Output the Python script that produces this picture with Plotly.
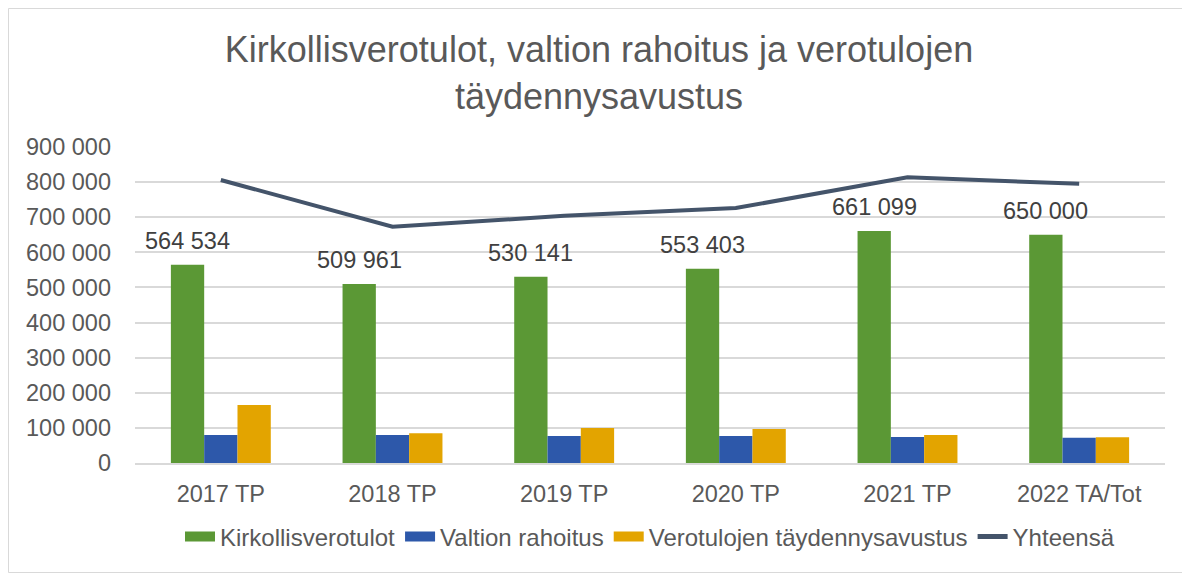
import plotly.graph_objects as go

categories = ["2017 TP", "2018 TP", "2019 TP", "2020 TP", "2021 TP", "2022 TA/Tot"]
kirkollisverotulot = [564534, 509961, 530141, 553403, 661099, 650000]
valtion_rahoitus = [80000, 80000, 77000, 77000, 74000, 72000]
taydennysavustus = [165000, 85000, 100000, 97000, 80000, 73000]
yhteensa = [806000, 673000, 704000, 726000, 814000, 795000]
kirkko_labels = ["564 534", "509 961", "530 141", "553 403", "661 099", "650 000"]
tick_vals = [0, 100000, 200000, 300000, 400000, 500000, 600000, 700000, 800000, 900000]
tick_text = ["0", "100 000", "200 000", "300 000", "400 000", "500 000",
             "600 000", "700 000", "800 000", "900 000"]

FONT = "Liberation Sans, Arial, sans-serif"
GREY = "#595959"
C_GREEN, C_BLUE, C_YELLOW, C_LINE = "#5b9835", "#2d58aa", "#e3a400", "#44546a"
BARGAP = 0.418

fig = go.Figure()
fig.add_trace(go.Bar(x=categories, y=kirkollisverotulot, name="Kirkollisverotulot",
                     legendgroup="k", showlegend=False,
                     marker=dict(color=C_GREEN, line=dict(width=0))))
fig.add_trace(go.Bar(x=categories, y=valtion_rahoitus, name="Valtion rahoitus",
                     legendgroup="v", showlegend=False,
                     marker=dict(color=C_BLUE, line=dict(width=0))))
fig.add_trace(go.Bar(x=categories, y=taydennysavustus, name="Verotulojen täydennysavustus",
                     legendgroup="t", showlegend=False,
                     marker=dict(color=C_YELLOW, line=dict(width=0))))
fig.add_trace(go.Scatter(x=categories, y=yhteensa, name="Yhteensä", mode="lines",
                         showlegend=False,
                         line=dict(color=C_LINE, width=4)))

# legend entries (wide rectangular keys like the original)
for name, col, grp, w in [("Kirkollisverotulot", C_GREEN, "k", 12),
                          ("Valtion rahoitus", C_BLUE, "v", 12),
                          ("Verotulojen täydennysavustus", C_YELLOW, "t", 12),
                          ("Yhteensä", C_LINE, "y", 5)]:
    fig.add_trace(go.Scatter(x=[None], y=[None], mode="lines", name=name,
                             legendgroup=grp, line=dict(color=col, width=w)))

# data labels above the green bars
green_offset = -(1 - BARGAP) / 3
for i, (v, lab) in enumerate(zip(kirkollisverotulot, kirkko_labels)):
    fig.add_annotation(x=i + green_offset, y=v, xref="x", yref="y", text=lab,
                       showarrow=False, yanchor="bottom", xanchor="center", yshift=9,
                       font=dict(size=23.5, color="#404040", family=FONT))

W, H = 1182, 565
ml, mr, mt, mb = 127, 25, 139, 110
pw, ph = W - ml - mr, H - mt - mb

fig.update_layout(
    width=W, height=H,
    margin=dict(l=ml, r=mr, t=mt, b=mb),
    paper_bgcolor="white", plot_bgcolor="white",
    font=dict(family=FONT, color=GREY, size=23.5),
    title=dict(text="Kirkollisverotulot, valtion rahoitus ja verotulojen<br>täydennysavustus",
               x=0.5, xanchor="center", y=1 - 54 / H, yanchor="middle",
               font=dict(size=36, color=GREY, family=FONT)),
    barmode="group", bargap=BARGAP, bargroupgap=0,
    showlegend=True,
    legend=dict(orientation="h", x=0.5, xanchor="center",
                y=-74 / ph, yanchor="middle",
                font=dict(size=24, color=GREY, family=FONT),
                traceorder="normal", itemwidth=30, tracegroupgap=0),
    xaxis=dict(showgrid=False, showline=True, linecolor="#d9d9d9", linewidth=1.5,
               ticks="", ticklabelstandoff=9, tickfont=dict(size=23.5, color=GREY)),
    yaxis=dict(range=[0, 900000], tickvals=tick_vals, ticktext=tick_text,
               showgrid=True, gridcolor="#d9d9d9", gridwidth=1.5, zeroline=False,
               showline=False, ticks="", ticklabelstandoff=23,
               tickfont=dict(size=23.5, color=GREY)),
)

fig.add_shape(type="rect", xref="paper", yref="paper",
              x0=(0.5 - ml) / pw, x1=(W - 0.5 - ml) / pw,
              y0=-(mb - 0.5) / ph, y1=1 + (mt - 0.5) / ph,
              line=dict(color="#d9d9d9", width=1), fillcolor="rgba(0,0,0,0)", layer="below")

fig.write_html("out.html")
